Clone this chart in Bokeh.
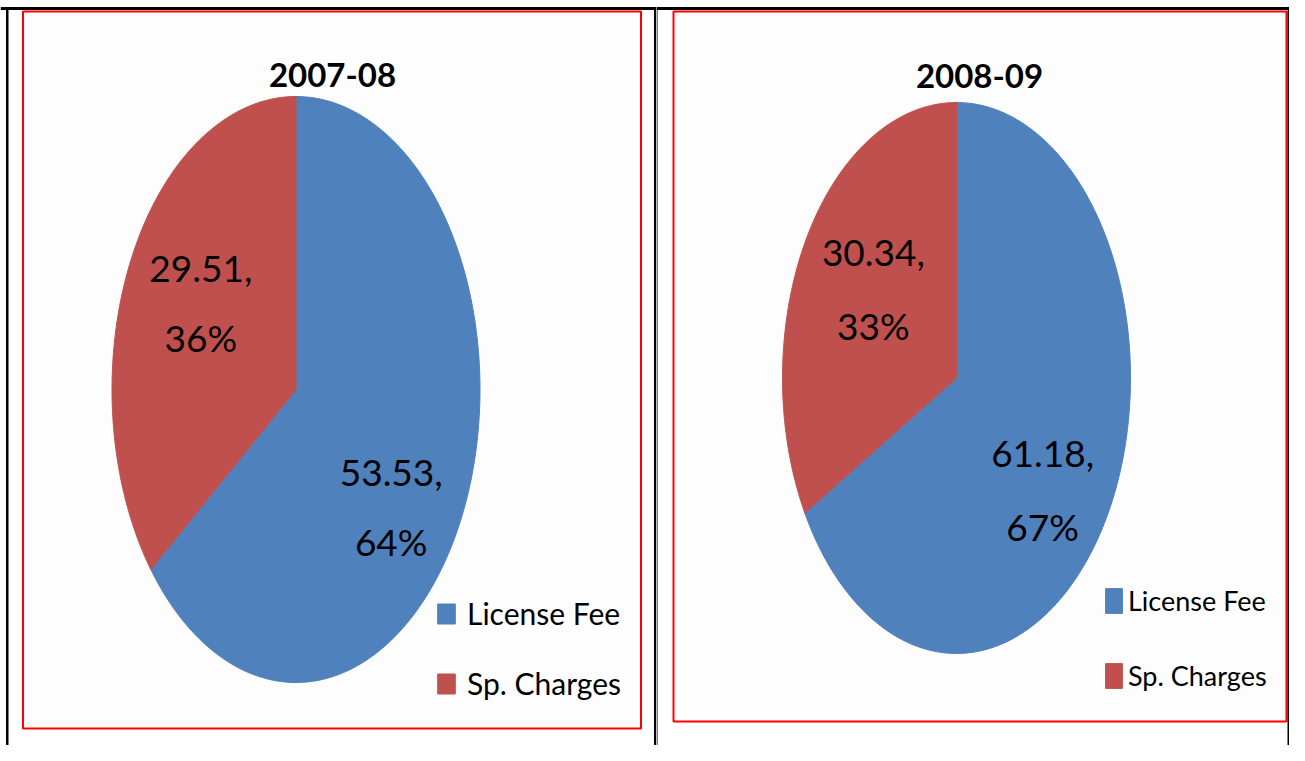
import numpy as np
from bokeh.plotting import figure
from bokeh.layouts import row
from bokeh.models import Range1d, Label, BoxAnnotation, ColumnDataSource, Legend, LegendItem
from bokeh.core.properties import value
from bokeh.embed import file_html
from bokeh.resources import INLINE

# ---------------- data ----------------
years = ["2007-08", "2008-09"]
categories = ["License Fee", "Sp. Charges"]
license_fee = [53.53, 61.18]
sp_charges = [29.51, 30.34]
colors = ["#4F81BD", "#C0504D"]

# ---------------- layout / style ----------------
FONT = "Lato"
FIG_H = 745
PAGE = 0  # picture coordinates == figure coordinates

panels = [
    dict(left=0, width=656, cx=295.5, cy=389, rx=184, ry=293,
         box=(22.5, 11, 640.5, 728), title_xy=(332, 74), title_size=33,
         label_size=37, label_lh=1.56, label_r=0.6, nudges=[(-4, 40), (4, -10)],
         leg_left=435, leg_top=593, glyph=(22, 25), standoff=10,
         leg_font=30, leg_item_h=40, row_gap=70,
         lines=[(0, 6.5, 656, 9.5), (5.5, 6.5, 8, FIG_H), (653.5, 6.5, 656, FIG_H)]),
    dict(left=656, width=633, cx=956, cy=377.5, rx=174, ry=275.5,
         box=(673, 11, 1286, 721), title_xy=(979, 75), title_size=33,
         label_size=37, label_lh=1.63, label_r=0.6, nudges=[(-4, 28), (7, -6)],
         leg_left=1103, leg_top=580, glyph=(21, 31), standoff=4,
         leg_font=27, leg_item_h=40, row_gap=75,
         lines=[(0, 6.5, 633, 9.5), (0, 6.5, 1, FIG_H), (631, 6.5, 633, FIG_H)]),
]


def make_panel(year, vals, cfg):
    W = cfg["width"]
    cxf = cfg["cx"] - cfg["left"]
    cyf = cfg["cy"] - PAGE
    rx, ry = cfg["rx"], cfg["ry"]

    def X(sx):  # picture x -> data
        return (sx - cfg["left"] - cxf) / rx

    def Y(sy):  # picture y -> data
        return (cyf - (sy - PAGE)) / ry

    def FX(fx):
        return (fx - cxf) / rx

    def FY(fy):
        return (cyf - fy) / ry

    p = figure(width=W, height=FIG_H, output_backend="svg", toolbar_location=None,
               x_range=Range1d(FX(0), FX(W)), y_range=Range1d(FY(FIG_H), FY(0)),
               x_axis_location=None, y_axis_location=None,
               min_border=0, min_border_left=0, min_border_right=0,
               min_border_top=0, min_border_bottom=0,
               outline_line_color=None, background_fill_color="white",
               border_fill_color="white")
    p.grid.visible = False

    # red framed chart area
    bl, bt, br, bb = cfg["box"]
    p.add_layout(BoxAnnotation(left=X(bl), right=X(br), top=Y(bt), bottom=Y(bb),
                               fill_color="#FDFDFD", fill_alpha=1.0,
                               line_color="#FF0000", line_alpha=1.0, line_width=2,
                               level="underlay"))

    # pie slices (clockwise from 12 o'clock)
    total = sum(vals)
    xs, ys, mids = [], [], []
    start = np.pi / 2
    for v in vals:
        sweep = 2 * np.pi * v / total
        t = np.linspace(start, start - sweep, 240)
        xs.append([0.0] + list(np.cos(t)) + [0.0])
        ys.append([0.0] + list(np.sin(t)) + [0.0])
        mids.append(start - sweep / 2)
        start -= sweep
    src = ColumnDataSource(dict(xs=xs, ys=ys, color=colors, cat=categories))
    r = p.patches("xs", "ys", source=src, fill_color="color", line_color="color",
                  line_width=1)

    # data labels
    pcts = [round(100 * v / total) for v in vals]
    lx, ly, txt = [], [], []
    for v, pc, m, (nx, ny) in zip(vals, pcts, mids, cfg["nudges"]):
        lx.append(cfg["label_r"] * np.cos(m) + nx / rx)
        ly.append(cfg["label_r"] * np.sin(m) - ny / ry)
        txt.append(f"{v:.2f},\n{pc}%")
    p.text(x=lx, y=ly, text=txt, text_font=value(FONT),
           text_font_size=value(f"{cfg['label_size']}px"), text_align="center",
           text_baseline="middle", text_line_height=cfg["label_lh"],
           text_color="#000000")

    # title
    tx, ty = cfg["title_xy"]
    p.add_layout(Label(x=X(tx), y=Y(ty), text=year, text_align="center",
                       text_baseline="middle", text_font=FONT,
                       text_font_size=f"{cfg['title_size']}px",
                       text_font_style="bold", text_color="#000000"))

    # legend
    gw, gh = cfg["glyph"]
    ih = cfg["leg_item_h"]
    spacing = cfg["row_gap"] - ih
    leg_h = 2 * ih + spacing
    bottom_from_frame = FIG_H - (cfg["leg_top"] - PAGE + leg_h)
    legend = Legend(items=[LegendItem(label=c, renderers=[r], index=i)
                           for i, c in enumerate(categories)],
                    location=(int(cfg["leg_left"] - cfg["left"]), int(bottom_from_frame)),
                    orientation="vertical", glyph_width=int(gw), glyph_height=int(gh),
                    label_height=int(ih), label_standoff=int(cfg["standoff"]),
                    spacing=int(spacing),
                    padding=0, margin=0, border_line_alpha=0,
                    background_fill_alpha=0, label_text_font=FONT,
                    label_text_font_size=f"{cfg['leg_font']}px",
                    label_text_color="#000000")
    p.add_layout(legend)

    # table rules
    for (l, t, rr, b) in cfg["lines"]:
        p.add_layout(BoxAnnotation(left=FX(l), right=FX(rr), top=FY(t), bottom=FY(b),
                                   fill_color="black", fill_alpha=1.0,
                                   line_color=None))
    return p


figs = []
for yr, lf, sc, cfg in zip(years, license_fee, sp_charges, panels):
    figs.append(make_panel(yr, [lf, sc], cfg))

layout = row(*figs, spacing=0)
open("out.html", "w").write(file_html(layout, INLINE))
